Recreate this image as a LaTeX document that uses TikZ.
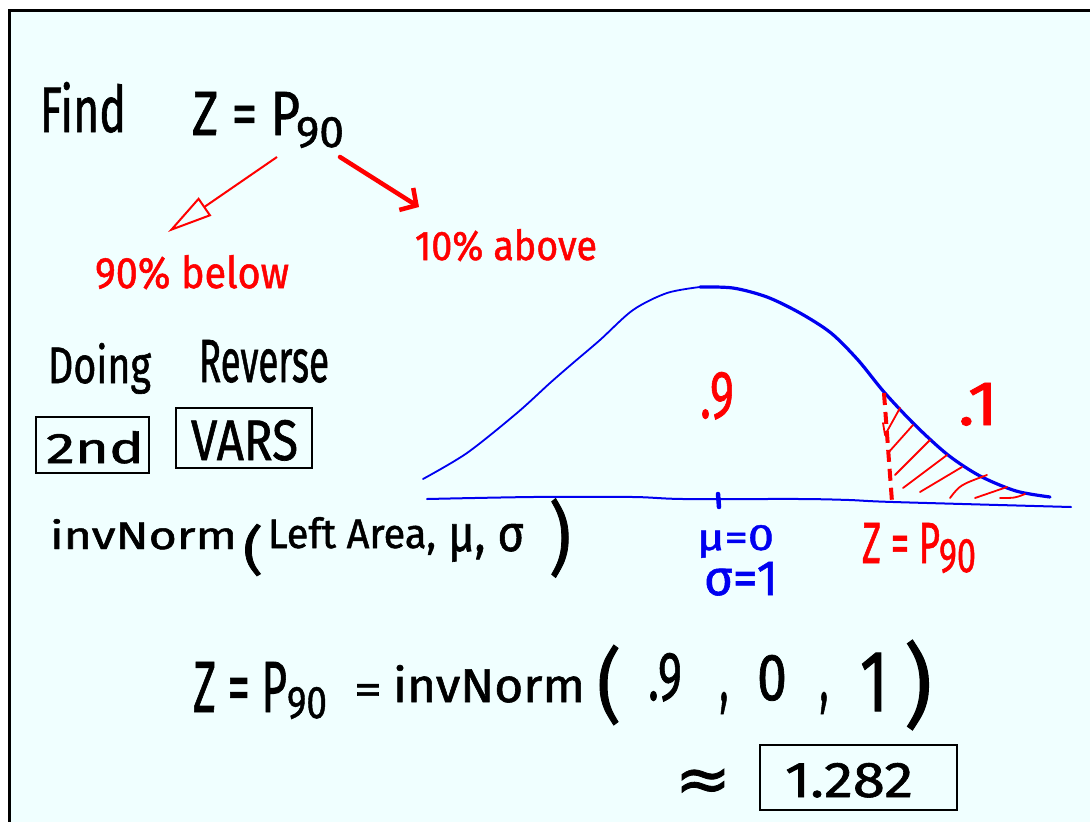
\documentclass[tikz,border=0pt]{standalone}
\usepackage{fontspec}
\usepackage{graphicx}
\setmainfont{Fira Sans}
\newfontfamily\hand{Fira Sans}[FakeBold=1.2]
\newfontfamily\symfont{DejaVu Sans}[FakeBold=1.2]
\usetikzlibrary{arrows.meta}
\definecolor{board}{HTML}{F0FFFF}
\definecolor{penred}{HTML}{FF0000}
\definecolor{penblue}{HTML}{0000F0}
\newcommand\hw[3]{\resizebox{#1pt}{#2pt}{\hand #3}}
\newcommand\hp[3]{\resizebox*{#1pt}{#2pt}{\hand #3}}
\begin{document}
\begin{tikzpicture}[x=1pt,y=-1pt,
  txt/.style={inner sep=0pt, outer sep=0pt, anchor=base west},
  ctr/.style={inner sep=0pt, outer sep=0pt, anchor=center},
  keybox/.style={draw=black, line width=2.5pt, inner sep=0pt, fill=none},
  redink/.style={text=penred},
  blueink/.style={text=penblue},
  curve/.style={draw=penblue, line cap=round, line join=round},
  hatch/.style={draw=penred, line width=1.8pt, line cap=round, line join=round}]
\useasboundingbox (0,0) rectangle (1090,822);
\fill[white] (0,0) rectangle (1090,822);
\fill[board] (9,10) rectangle (1090,822);
\draw[line width=3pt, black] (9,822) -- (9,10) -- (1090,10);

% --- header
\node[txt] (find) at (40,132) {\hw{86}{50}{Find}};
\node[txt] (zp) at (192,135) {\hw{108}{43}{Z = P}};
\node[txt] (zp90) at (296,147) {\hw{48}{30}{90}};

% arrows
\coordinate (la1) at (277,157);
\coordinate (la2) at (168,232);
\coordinate (ra1) at (340,157);
\coordinate (ra2) at (419,207);
\draw[penred, line width=2pt, line join=round, -{Triangle[open, length=45pt, width=22pt]}] (la1) -- (la2);
\draw[penred, line width=4.5pt, line cap=round, -{Straight Barb[length=12pt, width=26pt]}] (ra1) -- (ra2);

\node[txt, redink] (below) at (95,288) {\hw{194}{33}{90\% below}};
\node[txt, redink] (above) at (415,260) {\hw{182}{31}{10\% above}};

% --- Doing Reverse
\node[txt] (doing) at (48,383) {\hw{103}{40}{Doing}};
\node[txt] (reverse) at (199,382) {\hw{130}{42}{Reverse}};

\draw[keybox] (36,417) rectangle (149,473);
\node[txt] (k2nd) at (46,463) {\hw{98}{32}{2nd}};
\draw[keybox] (176,408) rectangle (312,468);
\node[txt] (kvars) at (191,460) {\hw{107}{40}{VARS}};

% --- invNorm syntax
\node[txt] (inv1) at (50,549) {\hw{187}{30}{invNorm}};
\node[ctr] (p1l) at (253,550) {\hp{20}{52}{(}};
\node[txt] (leftarea) at (268,548) {\hw{168}{31}{Left Area,}};
\node[txt] (musig) at (448,551) {\hw{76}{27}{μ, σ}};
\node[ctr] (p1r) at (560,538) {\hp{22}{79}{)}};

% --- normal curve
\draw[curve, line width=1.8pt] plot[smooth] coordinates {(423,479) (467,453) (517,413) (550,383) (573,363) (600,340) (633,310) (667,293) (700,287)};
\draw[curve, line width=3.2pt] plot[smooth] coordinates {(700,287) (733,288) (767,297) (800,313) (831,333) (858,360) (884,392) (915,425) (948,455) (980,476) (1016,491) (1050,497)};
\draw[curve, line width=2pt] plot[smooth] coordinates {(427,499) (533,497) (633,497) (683,499) (800,499) (849,500) (893,502) (1071,507)};
\draw[penblue, line width=4.5pt, line cap=round] (718,494) -- (719,507);

% shaded tail
\draw[penred, line width=4pt, dash pattern=on 12pt off 7pt] (884,393) -- (892,502);
\draw[hatch] (883,423) -- (885,435) -- (900,408);
\draw[hatch] (888,453) -- (913,425);
\draw[hatch] (895,475) -- (930,440);
\draw[hatch] (903,488) -- (947,455);
\draw[hatch] (920,492) -- (962,467);
\draw[hatch] (950,498) .. controls (960,485) .. (987,475);
\draw[hatch] (975,498) -- (1007,487);
\draw[hatch] (1000,498) .. controls (1015,498) .. (1025,494);

\node[txt, redink] (nine) at (700,418) {\hw{34}{46}{.9}};
\node[txt, redink] (one) at (958,425) {\hw{40}{42}{.1}};
\node[txt, blueink] (mu0) at (697,550) {\hw{77}{25}{μ=0}};
\node[txt, blueink] (sig1) at (704,595) {\hw{74}{33}{σ=1}};
\node[txt, redink] (zpr) at (862,563) {\hw{78}{40}{Z = P}};
\node[txt, redink] (zpr90) at (939,572) {\hw{37}{33}{90}};

% --- bottom computation
\node[txt] (bz) at (193,712) {\hw{94}{50}{Z = P}};
\node[txt] (b90) at (287,718) {\hw{40}{31}{90}};
\node[ctr] (beq) at (368,694) {\hw{28}{20}{=}};
\node[txt] (binv) at (393,702) {\hw{192}{37}{invNorm}};
\node[ctr] (bpl) at (609,685) {\hp{24}{80}{(}};
\node[txt] (b9) at (648,700) {\hw{34}{47}{.9}};
\node[ctr] (bc1) at (724,703) {\hp{9}{22}{,}};
\node[txt] (b0) at (757,700) {\hw{30}{45}{0}};
\node[ctr] (bc2) at (824,703) {\hp{9}{22}{,}};
\node[txt] (b1) at (860,711) {\hw{28}{58}{1}};
\node[ctr] (bpr) at (918,685) {\hp{28}{90}{)}};

\node[ctr] (approx) at (703,785) {\resizebox*{56pt}{32pt}{\symfont ≈}};
\draw[keybox] (760,745) rectangle (957,810);
\node[txt] (res) at (785,797) {\hw{128}{34}{1.282}};
\end{tikzpicture}
\end{document}
